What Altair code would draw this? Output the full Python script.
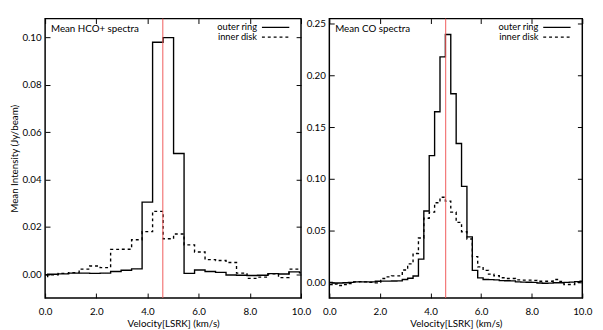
import altair as alt
import pandas as pd

SERIES = ["outer ring", "inner disk"]
XTICKS = [0, 2, 4, 6, 8, 10]
REF_V = 4.6

# HCO+ channel centres (km/s) and mean intensities (Jy/beam)
hco_v = [-0.105, 0.305, 0.715, 1.125, 1.535, 1.945, 2.355, 2.765, 3.175, 3.585,
         3.995, 4.405, 4.815, 5.225, 5.635, 6.045, 6.455, 6.865, 7.275, 7.685,
         8.095, 8.505, 8.915, 9.325, 9.735, 10.145]
hco_outer = [-0.0002, 0.0000, 0.0002, 0.0005, 0.0005, 0.0004, 0.0005, 0.0012, 0.0017, 0.0023,
             0.0305, 0.0980, 0.1000, 0.0510, 0.0004, 0.0018, 0.0012, 0.0008, -0.0003, -0.0004,
             -0.0005, -0.0004, 0.0003, 0.0001, 0.0010, 0.0006]
hco_inner = [-0.0015, -0.0002, 0.0004, 0.0007, 0.0022, 0.0035, 0.0028, 0.0105, 0.0106, 0.0146,
             0.0180, 0.0266, 0.0150, 0.0170, 0.0124, 0.0094, 0.0062, 0.0058, 0.0050, 0.0005,
             -0.0017, -0.0012, 0.0002, -0.0014, 0.0022, 0.0022]
hco_yticks = [0.00, 0.02, 0.04, 0.06, 0.08, 0.10]
hco_ydomain = [-0.01, 0.108]

# CO channel centres (km/s) and mean intensities (Jy/beam)
co_v = [-0.206, 0.008, 0.221, 0.434, 0.647, 0.860, 1.073, 1.286, 1.499, 1.712,
        1.925, 2.138, 2.351, 2.564, 2.777, 2.990, 3.203, 3.416, 3.629, 3.842,
        4.055, 4.268, 4.481, 4.694, 4.907, 5.120, 5.333, 5.546, 5.759, 5.972,
        6.185, 6.398, 6.611, 6.824, 7.037, 7.250, 7.463, 7.676, 7.889, 8.102,
        8.315, 8.528, 8.741, 8.954, 9.167, 9.380, 9.593, 9.806, 10.019]
co_outer = [0.0000, 0.0000, -0.0005, -0.0005, -0.0003, 0.0000, 0.0005, 0.0005, 0.0005, 0.0005,
            0.0012, 0.0013, 0.0013, 0.0014, 0.0015, 0.0028, 0.0040, 0.0062, 0.0226, 0.0690,
            0.1226, 0.1650, 0.2180, 0.2396, 0.1824, 0.1343, 0.0928, 0.0440, 0.0116, 0.0044,
            0.0028, 0.0027, 0.0025, 0.0017, 0.0016, 0.0015, 0.0005, 0.0003, 0.0002, 0.0000,
            -0.0005, -0.0008, -0.0006, -0.0003, -0.0003, 0.0000, 0.0003, 0.0008, 0.0012]
co_inner = [-0.0015, -0.0020, -0.0015, -0.0030, -0.0020, -0.0010, 0.0005, 0.0008, 0.0006, 0.0000,
            -0.0004, 0.0038, 0.0054, 0.0063, 0.0063, 0.0120, 0.0180, 0.0280, 0.0430, 0.0620,
            0.0680, 0.0770, 0.0824, 0.0786, 0.0680, 0.0580, 0.0490, 0.0420, 0.0250, 0.0150,
            0.0116, 0.0080, 0.0065, 0.0045, 0.0038, 0.0038, 0.0025, 0.0022, 0.0022, 0.0020,
            0.0012, 0.0012, 0.0012, 0.0028, 0.0010, -0.0020, -0.0020, 0.0000, 0.0000]
co_yticks = [0.00, 0.05, 0.10, 0.15, 0.20, 0.25]
co_ydomain = [-0.015, 0.255]

FONT = "Lato"
HEIGHT = 286


def panel(v, outer, inner, title, ydomain, yticks, ytitle, width):
    df = pd.DataFrame({
        "v": v + v,
        "val": outer + inner,
        "series": [SERIES[0]] * len(v) + [SERIES[1]] * len(v),
    })
    xs = alt.Scale(domain=[0, 10], nice=False, zero=False)
    ys = alt.Scale(domain=ydomain, nice=False, zero=False)
    common = dict(offset=-5, tickSize=5, domain=False, grid=False,
                  labelFlush=False, labelOverlap=False, tickColor="black", tickWidth=1)
    xaxis = alt.Axis(orient="bottom", values=XTICKS, format=".1f",
                     title="Velocity[LSRK] (km/s)", labelPadding=9, titlePadding=2, **common)
    if ytitle:
        yaxis = alt.Axis(orient="left", values=yticks, format=".2f", title=ytitle,
                         labelPadding=4, titlePadding=3, **common)
    else:
        yaxis = alt.Axis(orient="left", values=yticks, format=".2f", title=None,
                         labelPadding=4, **common)
    lines = alt.Chart(df).mark_line(interpolate="step", clip=True, color="black",
                                    strokeWidth=1.4).encode(
        x=alt.X("v:Q", scale=xs, axis=xaxis),
        y=alt.Y("val:Q", scale=ys, axis=yaxis),
        strokeDash=alt.StrokeDash("series:N",
                                  scale=alt.Scale(domain=SERIES, range=[[1, 0], [3, 3]]),
                                  legend=None),
    )
    mirror = alt.Chart(df).mark_point(opacity=0, clip=True).encode(
        x=alt.X("v:Q", scale=xs, axis=alt.Axis(orient="top", values=XTICKS, labels=False,
                                               title=None, **common)),
        y=alt.Y("val:Q", scale=ys, axis=alt.Axis(orient="right", values=yticks, labels=False,
                                                 title=None, **common)),
    )
    rule = alt.Chart(pd.DataFrame({"v": [REF_V]})).mark_rule(
        color="#f05a5a", strokeWidth=1).encode(x=alt.X("v:Q", scale=xs, axis=None))
    ttl = alt.Chart(pd.DataFrame({"t": [title]})).mark_text(
        align="left", baseline="middle", font=FONT, fontSize=10, color="black").encode(
        x=alt.value(6), y=alt.value(11), text="t:N")
    leg = []
    for i, s in enumerate(SERIES):
        yy = 9 + 10 * i
        leg.append(alt.Chart(pd.DataFrame({"t": [s]})).mark_text(
            align="right", baseline="middle", font=FONT, fontSize=9.5, color="black").encode(
            x=alt.value(width - 45), y=alt.value(yy), text="t:N"))
        leg.append(alt.Chart(pd.DataFrame({"t": [s]})).mark_rule(
            color="black", strokeWidth=1.2,
            strokeDash=[1, 0] if i == 0 else [3, 3]).encode(
            x=alt.value(width - 40), x2=alt.value(width - 12), y=alt.value(yy)))
    return alt.layer(lines, mirror, rule, ttl, *leg).resolve_axis(
        x="independent", y="independent").properties(width=width, height=HEIGHT)


left = panel(hco_v, hco_outer, hco_inner, "Mean HCO+ spectra", hco_ydomain, hco_yticks,
             "Mean Intensity (Jy/beam)", 262)
right = panel(co_v, co_outer, co_inner, "Mean CO spectra", co_ydomain, co_yticks, None, 259)

chart = alt.hconcat(left, right, spacing=29, bounds="flush").properties(
    padding={"left": 0, "top": 5, "right": 2, "bottom": 0}
).configure_view(stroke="black", strokeWidth=1.5).configure_axis(
    labelFont=FONT, labelFontSize=10, labelColor="black",
    titleFont=FONT, titleFontSize=10, titleFontWeight="normal", titleColor="black")

chart.save("out.html", embed_options={"renderer": "svg", "actions": False})
